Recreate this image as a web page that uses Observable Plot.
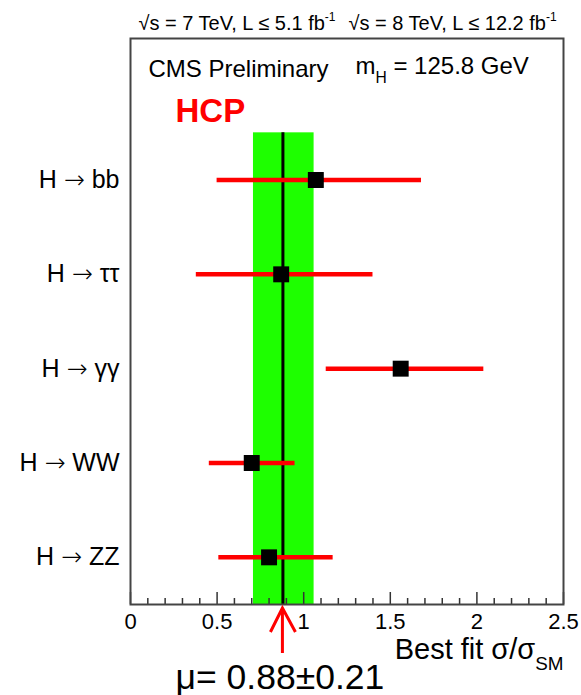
<!DOCTYPE html>
<html><head><meta charset="utf-8">
<script src="https://cdn.jsdelivr.net/npm/d3@7"></script>
<script src="https://cdn.jsdelivr.net/npm/@observablehq/plot@0.6"></script>
<style>body{margin:0;background:#fff;} svg{display:block}</style>
</head><body><div id="chart"></div>
<script>
// ---- data ----
const channels = ["H → bb", "H → ττ", "H → γγ", "H → WW", "H → ZZ"];
const bestFit  = [1.07, 0.87, 1.56, 0.70, 0.80];
const errLow   = [0.50, 0.38, 1.13, 0.455, 0.51];
const errHigh  = [1.68, 1.40, 2.04, 0.95, 1.17];
const combinedMu = 0.88;
const combinedLow = 0.71;
const combinedHigh = 1.06;
const xTickValues = [0, 0.5, 1, 1.5, 2, 2.5];
const xTickLabels = ["0", "0.5", "1", "1.5", "2", "2.5"];
const minorTickValues = [0.1,0.2,0.3,0.4,0.6,0.7,0.8,0.9,1.1,1.2,1.3,1.4,1.6,1.7,1.8,1.9,2.1,2.2,2.3,2.4];
const energyText = ["√s = 7 TeV, L ≤ 5.1 fb^{-1}", "√s = 8 TeV, L ≤ 12.2 fb^{-1}"];
const massText = "m_{H} = 125.8 GeV";
const experimentText = "CMS Preliminary";
const conferenceText = "HCP";
const xTitle = "Best fit σ/σ_{SM}";
const muText = "μ= 0.88±0.21";

// ---- chart ----
const W = 581, H = 695;
const mL = 130, mR = 18, mT = 38, mB = 91;
const frameH = H - mT - mB;
const n = channels.length;
const rows = channels.map((c, i) => ({c, y: n - i - 0.5, best: bestFit[i], lo: errLow[i], hi: errHigh[i]}));
const font = "'Liberation Sans', Arial, Helvetica, sans-serif";

const plot = Plot.plot({
  width: W, height: H,
  marginLeft: mL, marginRight: mR, marginTop: mT, marginBottom: mB,
  style: {fontFamily: font, background: "white", color: "black"},
  x: {domain: [0, 2.5]},
  y: {domain: [0, n + 1]},
  marks: [
    Plot.rect([combinedMu], {x1: combinedLow, x2: combinedHigh, y1: 0, y2: n, fill: "#1eff00"}),
    Plot.ruleX([combinedMu], {x: d => d, y1: 0, y2: n, stroke: "black", strokeWidth: 3}),
    Plot.ruleY(rows, {y: "y", x1: "lo", x2: "hi", stroke: "#ff0000", strokeWidth: 4.5}),
    Plot.dot(rows, {x: "best", y: "y", symbol: "square", r: 9, fill: "black", stroke: "none"}),
    Plot.ruleX(minorTickValues, {x: d => d, insetTop: frameH - 6, stroke: "#333", strokeWidth: 1.5}),
    Plot.ruleX(xTickValues, {x: d => d, insetTop: frameH - 12, stroke: "#333", strokeWidth: 1.5}),
    Plot.frame({stroke: "#444", strokeWidth: 2}),
    Plot.axisX(xTickValues, {tickSize: 0, tickPadding: 9, fontSize: 22, label: null,
      tickFormat: d => xTickLabels[xTickValues.indexOf(d)]}),
    Plot.axisY(rows.map(r => r.y), {tickSize: 0, tickPadding: 11, fontSize: 25, label: null,
      tickFormat: d => rows.find(r => r.y === d).c}),
    Plot.text([energyText[0]], {text: d => d, frameAnchor: "top-left", textAnchor: "start", lineAnchor: "bottom", dx: 8, dy: -9, fontSize: 20}),
    Plot.text([energyText[1]], {text: d => d, frameAnchor: "top-left", textAnchor: "start", lineAnchor: "bottom", dx: 218, dy: -9, fontSize: 20}),
    Plot.text([experimentText], {text: d => d, frameAnchor: "top-left", textAnchor: "start", lineAnchor: "bottom", dx: 18, dy: 38, fontSize: 24}),
    Plot.text([massText], {text: d => d, frameAnchor: "top-left", textAnchor: "start", lineAnchor: "bottom", dx: 225, dy: 35, fontSize: 24}),
    Plot.text([conferenceText], {text: d => d, frameAnchor: "top-left", textAnchor: "start", lineAnchor: "bottom", dx: 45, dy: 83, fontSize: 33, fontWeight: "bold", fill: "#ff0000"}),
    Plot.text([xTitle], {text: d => d, frameAnchor: "bottom-right", textAnchor: "end", lineAnchor: "bottom", dx: 0, dy: 54, fontSize: 29}),
    Plot.text([muText], {text: d => d, x: combinedMu, frameAnchor: "bottom", textAnchor: "middle", lineAnchor: "bottom", dx: -3, dy: 84, fontSize: 35.5})
  ]
});
document.getElementById("chart").appendChild(plot);

// arrow pointing at the combined value, placed through the x scale
const xs = plot.scale("x");
const ax = xs.apply(combinedMu);
const yAxis = H - mB;
d3.select(plot).append("path")
  .attr("d", `M${ax},${yAxis + 49}L${ax},${yAxis + 4}M${ax - 12},${yAxis + 28}L${ax},${yAxis + 4}L${ax + 13},${yAxis + 28}`)
  .attr("fill", "none").attr("stroke", "#ff0000").attr("stroke-width", 3);

// sub/superscripts and arrow glyphs
d3.select(plot).selectAll("text").each(function() {
  const s = this.textContent;
  if (!/[_^]\{|→/.test(s)) return;
  const fs = parseFloat(getComputedStyle(this).fontSize);
  const parts = [];
  const re = /([_^])\{([^}]*)\}|(→)/g;
  let last = 0, m;
  while ((m = re.exec(s))) {
    if (m.index > last) parts.push({t: s.slice(last, m.index)});
    if (m[3]) parts.push({t: m[3], kind: "arrow"});
    else parts.push({t: m[2], kind: m[1]});
    last = re.lastIndex;
  }
  if (last < s.length) parts.push({t: s.slice(last)});
  this.textContent = "";
  let shift = 0;
  const sel = d3.select(this);
  for (const p of parts) {
    const ts = sel.append("tspan").text(p.t);
    let target = 0;
    if (p.kind === "_") { target = 0.38 * fs; ts.attr("font-size", 0.65 * fs); }
    else if (p.kind === "^") { target = -0.42 * fs; ts.attr("font-size", 0.6 * fs); }
    else if (p.kind === "arrow") { ts.attr("font-family", "'DejaVu Sans', sans-serif").attr("font-weight", 200); }
    ts.attr("dy", target - shift);
    shift = target;
  }
});
</script>
</body></html>
